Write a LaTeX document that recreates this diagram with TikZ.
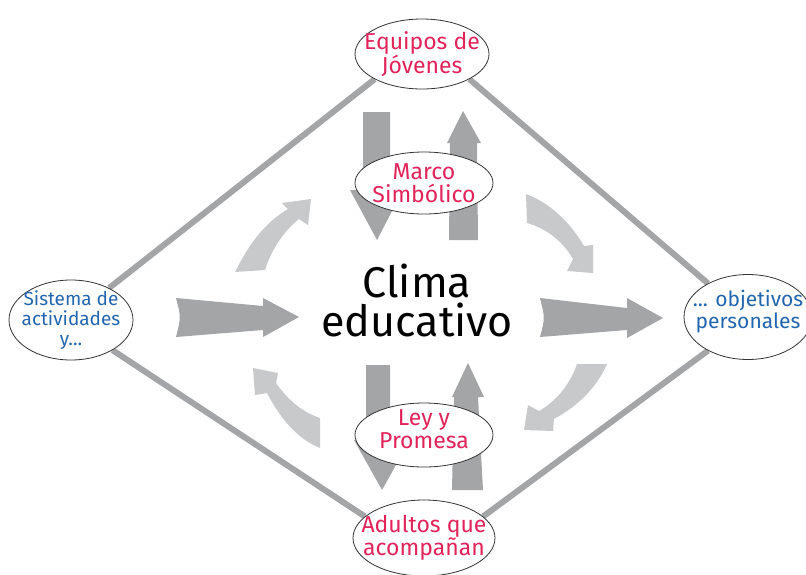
\documentclass[tikz,border=0pt]{standalone}
\usepackage{fontspec}
\setmainfont{Fira Sans}
\usetikzlibrary{shapes.geometric,backgrounds}
\definecolor{rosa}{HTML}{E2235A}
\definecolor{azul}{HTML}{2366B0}
\definecolor{gris}{HTML}{A4A5A7}
\definecolor{grisclaro}{HTML}{C8C9CB}

\begin{document}
\begin{tikzpicture}[x=1pt,y=-1pt,
		bubble/.style = {ellipse,draw=black!80,line width=0.8pt,fill=white,inner sep=0pt},
		redtext/.style = {align=center,text=rosa,font=\fontsize{23}{23}\selectfont},
		bluetext/.style = {align=center,text=azul,font=\fontsize{19}{20}\selectfont},
		rim/.style = {draw=gris,line width=6pt},
		block/.style = {fill=gris},
		swirl/.style = {fill=grisclaro}]
	\useasboundingbox (0,0) rectangle (806,574);

	\node[bubble,minimum width=134,minimum height=70] (equipos) at (422,54) {};
	\node[redtext] (equipos-t) at (equipos) {Equipos de\\Jóvenes};
	\node[bubble,minimum width=138,minimum height=62] (marco) at (424,183) {};
	\node[redtext] (marco-t) at (marco) {Marco\\Simbólico};
	\node[bubble,minimum width=138,minimum height=64] (ley) at (424,435) {};
	\node[redtext] (ley-t) at ([yshift=6]ley) {Ley y\\Promesa};
	\node[bubble,minimum width=142,minimum height=76] (adultos) at (424,538) {};
	\node[redtext] (adultos-t) at (adultos) {Adultos que\\acompañan};
	\node[bubble,minimum width=124,minimum height=80] (sistema) at (71,320) {};
	\node[bluetext] (sistema-t) at (sistema) {Sistema de\\actividades\\y...};
	\node[bubble,minimum width=128,minimum height=85] (objetivos) at (748,317) {};
	\node[bluetext,font=\fontsize{21}{22}\selectfont] (objetivos-t) at ([yshift=5]objetivos) {... objetivos\\personales};
	\node[align=center,font=\fontsize{43}{39}\selectfont] (clima) at (417,300) {Clima\\educativo};

	\begin{scope}[on background layer]
		% rombo
		\draw[rim] (equipos.208) -- (sistema.40);
		\draw[rim] (equipos.-28) -- (objetivos.140);
		\draw[rim] (sistema.-36) -- (adultos.160);
		\draw[rim] (objetivos.-140) -- (adultos.20);
		% flechas grandes
		\fill[block] (176,298) -- (263,306) -- (263,298) -- (299,317) -- (263,337) -- (263,330)
			-- (176,337) .. controls (181,317) .. (176,298) -- cycle;
		\fill[block] (540,298) -- (627,308) -- (627,298) -- (663,318) -- (627,338) -- (627,330)
			-- (540,337) .. controls (545,318) .. (540,298) -- cycle;
		\fill[block] (363,112) -- (390,112) -- (390,190) -- (403,190) -- (377,240) -- (350,190)
			-- (363,190) -- cycle;
		\fill[block] (449,240) -- (450,143) -- (447,143) -- (463,111) -- (481,143) -- (477,143)
			-- (478,240) -- cycle;
		\fill[block] (366,365) -- (390,365) -- (390,440) -- (410,440) -- (382,490) -- (354,440)
			-- (366,440) -- cycle;
		\fill[block] (452,490) -- (454,397) -- (452,397) -- (468,363) -- (484,397) -- (478,397)
			-- (483,490) -- cycle;
		% flechas curvas
		\fill[swirl] (235,272) .. controls (250,242) and (266,222) .. (288,209) -- (282,203)
			-- (311,199) -- (308,225) -- (299,219) .. controls (285,230) and (272,248) .. (265,270) -- cycle;
		\fill[swirl] (526,194) .. controls (550,203) and (570,222) .. (584,246) -- (593,245)
			-- (593,273) -- (567,271) -- (573,259) .. controls (562,240) and (545,228) .. (527,223) -- cycle;
		\fill[swirl] (607,364) .. controls (598,385) and (580,405) .. (554,419) -- (553,431)
			-- (524,430) -- (528,405) -- (539,411) .. controls (555,402) and (570,385) .. (577,364) -- cycle;
		\fill[swirl] (320,448) .. controls (300,440) and (282,422) .. (267,393) -- (255,395)
			-- (253,368) -- (278,373) -- (276,383) .. controls (288,400) and (302,412) .. (320,418) -- cycle;
	\end{scope}
\end{tikzpicture}
\end{document}
